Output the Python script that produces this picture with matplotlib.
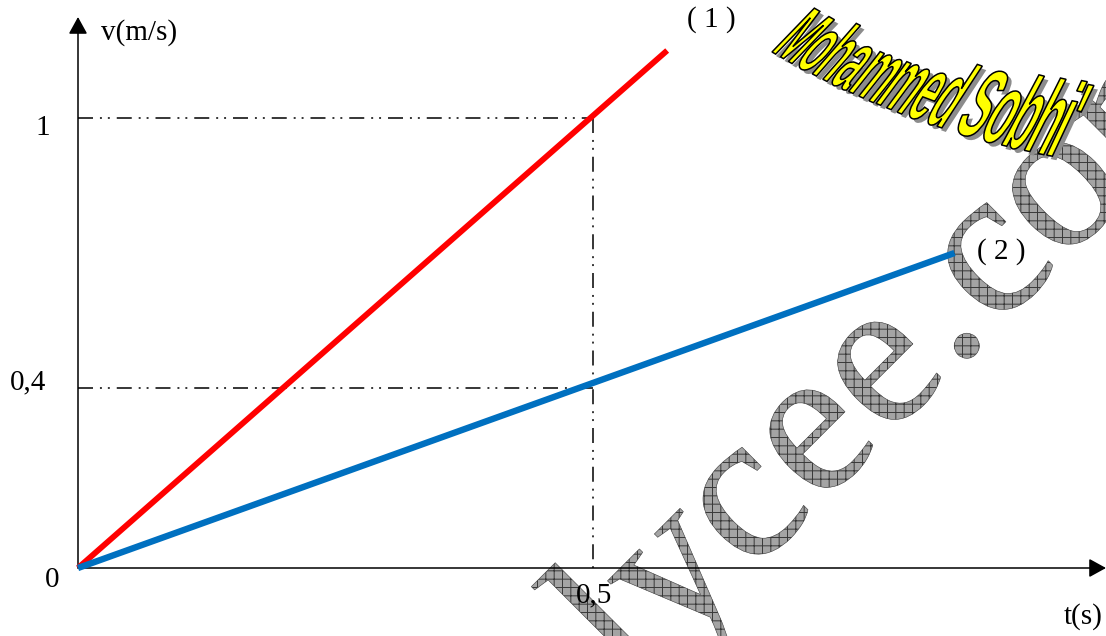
import numpy as np
import matplotlib
matplotlib.use("Agg")
import matplotlib.pyplot as plt
from matplotlib.textpath import TextPath
from matplotlib.patches import PathPatch
from matplotlib.font_manager import FontProperties
from matplotlib.transforms import Affine2D, IdentityTransform

plt.rcParams['font.family'] = ['Liberation Serif', 'DejaVu Serif']
plt.rcParams['lines.scale_dashes'] = False
plt.rcParams['hatch.linewidth'] = 0.7

# values
t_line1 = [0, 0.572]
v_line1 = [0, 1.15]
t_line2 = [0, 0.851]
v_line2 = [0, 0.70]
t_read = 0.5
v_read = [1, 0.4]
line_names = ['( 1 )', '( 2 )']
x_tick_vals = [0, 0.5]
x_tick_text = ['0', '0,5']
y_tick_vals = [1, 0.4]
y_tick_text = ['1', '0,4']

W, H = 1106, 636
px = 0.72  # pixel -> point at dpi 100

fig = plt.figure(figsize=(W / 100, H / 100), dpi=100)
fig.patch.set_facecolor('white')
ax = fig.add_axes([0, 0, 1, 1])
ax.set_xlim(-78 / 1030, (W - 78) / 1030)
ax.set_ylim(-(H - 568) / 450, 568 / 450)
ax.axis('off')

# ---- watermark "lycee.com" (hatched, rotated) ----
wm_font = FontProperties(family='Liberation Serif')
wm_chars = ['l', 'y', 'c', 'e', 'e', '.', 'c', 'o', 'm']
wm_along = [-185, -101, 0, 96, 192, 268, 346, 444, 580]
bx0, by0 = 784, 542
for ch, s in zip(wm_chars, wm_along):
    p = TextPath((0, 0), ch, size=212, prop=wm_font)
    e = p.get_extents()
    cx = (e.x0 + e.x1) / 2
    bx = bx0 + s * np.cos(np.radians(45))
    by = by0 - s * np.sin(np.radians(45))
    tr = Affine2D().translate(-cx, 0).rotate_deg(45).translate(bx, H - by)
    patch = PathPatch(tr.transform_path(p), transform=IdentityTransform(),
                      facecolor='#a4a4a4', edgecolor='#383838', hatch='++',
                      lw=0.4, zorder=1)
    ax.add_artist(patch)

# ---- watermark "Mohammed Sobhi" (yellow, on an arc) ----
name = "Mohammed Sobhi'"
nf = FontProperties(family='Liberation Sans', weight='bold')
em0, em1, hs = 86, 112, 0.385
glyphs = []
for ch in name:
    if ch == ' ':
        glyphs.append((None, 0, 22))
    else:
        p = TextPath((0, 0), ch, size=100, prop=nf)
        e = p.get_extents()
        glyphs.append((p, e.x0, e.width + 7))
n = len(glyphs)
ems = [em0 + (em1 - em0) * i / (n - 1) for i in range(n)]
adv = [g[2] * hs * m / 100 for g, m in zip(glyphs, ems)]
starts = np.concatenate([[0], np.cumsum(adv)[:-1]])
L = sum(adv)
ss = np.linspace(0, L, 2000)
th = np.radians(30 + (10 - 30) * ss / L)
ds = ss[1] - ss[0]
xs = 772 + np.concatenate([[0], np.cumsum(np.cos(th) * ds)[:-1]])
ys = 52 + np.concatenate([[0], np.cumsum(np.sin(th) * ds)[:-1]])
for (p, x0g, w), m, s in zip(glyphs, ems, starts):
    if p is None:
        continue
    X = np.interp(s, ss, xs)
    Y = np.interp(s, ss, ys)
    a = np.degrees(np.interp(s, ss, th))
    tr = (Affine2D().translate(-x0g, 0).scale(hs * m / 100, m / 100)
          .skew_deg(14, 0).rotate_deg(-a).translate(X, H - Y))
    path = tr.transform_path(p)
    ax.add_artist(PathPatch(Affine2D().translate(4, -4).transform_path(path),
                            transform=IdentityTransform(), facecolor='#8c8c8c',
                            edgecolor='none', zorder=2))
    ax.add_artist(PathPatch(path, transform=IdentityTransform(),
                            facecolor='#ffff00', edgecolor='black', lw=1.1, zorder=3))

# ---- axes with arrows ----
arrow_kw = dict(arrowstyle='-|>,head_length=0.4,head_width=0.22', mutation_scale=26,
                lw=1.1, color='black', shrinkA=0, shrinkB=0)
ax.annotate('', xy=(1.0, 0), xycoords=('axes fraction', 'data'),
            xytext=(0, 0), textcoords='data', arrowprops=arrow_kw, zorder=5)
ax.annotate('', xy=(0, 1 - 17 / H), xycoords=('data', 'axes fraction'),
            xytext=(0, 0), textcoords='data', arrowprops=arrow_kw, zorder=5)

# ---- dash-dot reading lines ----
dd = (0, (10.8, 5, 1.4, 4.3, 1.4, 5))
for v in v_read:
    ax.plot([0, t_read], [v, v], color='black', lw=1.1, linestyle=dd, zorder=4)
ax.plot([t_read, t_read], [max(v_read), 0], color='black', lw=1.1, linestyle=dd, zorder=4)

# ---- the two lines ----
ax.plot(t_line1, v_line1, color='#ff0000', lw=4.2, solid_capstyle='butt', zorder=6)
ax.plot(t_line2, v_line2, color='#0070c0', lw=4.6, solid_capstyle='butt', zorder=6)

fs = 21
ax.annotate(line_names[0], xy=(t_line1[-1], v_line1[-1]), xytext=(44 * px, 31 * px),
            textcoords='offset points', ha='center', va='center', fontsize=fs, zorder=7)
ax.annotate(line_names[1], xy=(t_line2[-1], v_line2[-1]), xytext=(47 * px, 1 * px),
            textcoords='offset points', ha='center', va='center', fontsize=fs, zorder=7,
            bbox=dict(boxstyle='square,pad=0.05', fc='white', ec='none'))

# ---- tick labels ----
y_offs = [(-35, -10), (-50, 6)]
for v, txt, (dx, dy) in zip(y_tick_vals, y_tick_text, y_offs):
    ax.annotate(txt, xy=(0, v), xytext=(dx * px, dy * px), textcoords='offset points',
                ha='center', va='center', fontsize=fs, zorder=7)
x_offs = [(-26, -12), (1, -27)]
for t, txt, (dx, dy) in zip(x_tick_vals, x_tick_text, x_offs):
    ax.annotate(txt, xy=(t, 0), xytext=(dx * px, dy * px), textcoords='offset points',
                ha='center', va='center', fontsize=fs, zorder=7)

ax.text(139 / W, 1 - 33 / H, 'v(m/s)', transform=ax.transAxes, ha='center', va='center',
        fontsize=fs, zorder=7)
ax.text(1083 / W, 1 - 617 / H, 't(s)', transform=ax.transAxes, ha='center', va='center',
        fontsize=fs, zorder=7)

fig.savefig('out.png', dpi=100, facecolor='white')
